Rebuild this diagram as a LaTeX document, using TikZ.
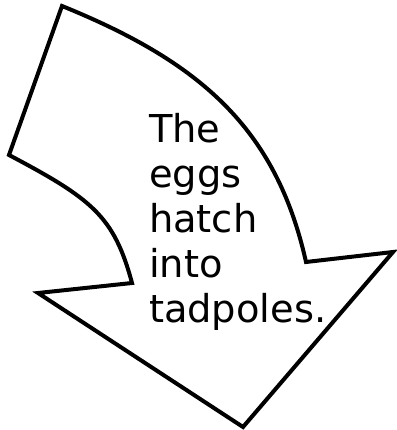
\documentclass[tikz,border=0pt]{standalone}
\usepackage{fontspec}
\newfontfamily\comicfont{DejaVu Sans}
\usetikzlibrary{calc}

\begin{document}
\begin{tikzpicture}[x=1pt, y=-1pt, line width=4pt]

% 画布大小
\useasboundingbox (0, 0) rectangle (396, 430);

% 箭头的各个角点
\coordinate (TopLeft) at (62, 6);
\coordinate (OuterEnd) at (306, 262);
\coordinate (TipRight) at (393, 252);
\coordinate (TipBottom) at (243, 427);
\coordinate (TipLeft) at (38, 293);
\coordinate (InnerEnd) at (132, 283);
\coordinate (LeftCorner) at (9, 155);

% 弯曲的箭头外形
\draw[black, fill=white]
  (TopLeft) .. controls (200, 62) and (276, 128) .. (OuterEnd)
  -- (TipRight) -- (TipBottom) -- (TipLeft) -- (InnerEnd)
  .. controls (114, 216) and (92, 199) .. (LeftCorner) -- cycle;

% 箭头里的文字（基线取最后一行）
\node[anchor=base west, align=left, inner sep=0pt,
      font=\comicfont\fontsize{38.4}{45}\selectfont] (caption) at (147, 322)
  {The\\eggs\\hatch\\into\\tadpoles.};

\end{tikzpicture}
\end{document}
